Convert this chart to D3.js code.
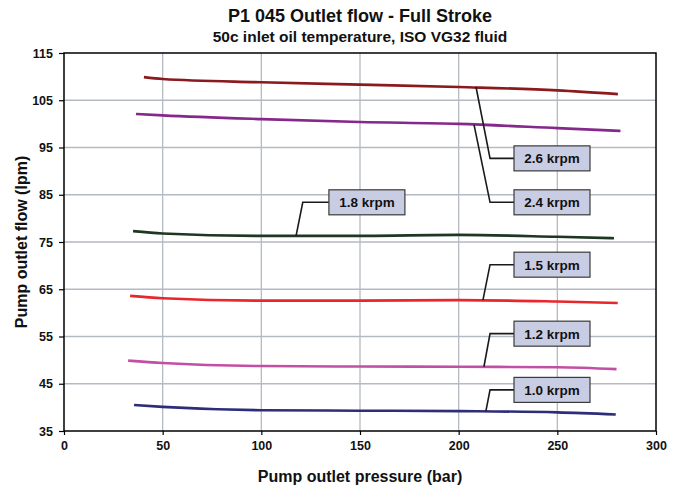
<!DOCTYPE html>
<html>
<head>
<meta charset="utf-8">
<script src="https://cdn.jsdelivr.net/npm/d3@7"></script>
<style>
  body { margin: 0; background: #fff; }
  svg { display: block; }
  text { font-family: "Liberation Sans", Arial, sans-serif; font-weight: bold; fill: #111; }
</style>
</head>
<body>
<div id="chart"></div>
<script>
// pressure (bar) / flow (lpm)
const pressure = [35, 50, 100, 150, 200, 250, 280];

const flow26 = [109.9, 109.5, 108.8, 108.3, 107.8, 107.1, 106.3];
const flow24 = [102.1, 101.8, 101.0, 100.4, 100.0, 99.1, 98.5];
const flow18 = [77.3, 76.8, 76.3, 76.3, 76.5, 76.1, 75.8];
const flow15 = [63.6, 63.1, 62.6, 62.6, 62.7, 62.4, 62.1];
const flow12 = [49.9, 49.4, 48.75, 48.65, 48.6, 48.5, 48.1];
const flow10 = [40.5, 40.1, 39.4, 39.3, 39.2, 38.95, 38.5];

const seriesNames = ["2.6 krpm", "2.4 krpm", "1.8 krpm", "1.5 krpm", "1.2 krpm", "1.0 krpm"];
const seriesStart = [40.5, 36.5, 35, 33.5, 32.5, 35.5];
const seriesEnd = [280.7, 282, 278.7, 280.6, 280, 279.6];
const seriesColors = ["#8b1a1f", "#85288c", "#1e3622", "#e8262b", "#c24fa4", "#2d2d78"];

const xTicks = [0, 50, 100, 150, 200, 250, 300];
const yTicks = [35, 45, 55, 65, 75, 85, 95, 105, 115];

// callouts: point on the curve, elbow, box centre (data units)
const callouts = [
  { name: "2.6 krpm", at: [208.8, 107.8], elbow: [215.9, 92.7], box: [247.3, 92.7] },
  { name: "2.4 krpm", at: [207.8, 99.8], elbow: [215.9, 83.4], box: [247.3, 83.4] },
  { name: "1.8 krpm", at: [117.6, 76.3], elbow: [121, 83.4], box: [153.5, 83.4] },
  { name: "1.5 krpm", at: [212.3, 62.7], elbow: [215.9, 70.2], box: [247.3, 70.2] },
  { name: "1.2 krpm", at: [212.8, 48.6], elbow: [215.9, 55.6], box: [247.3, 55.6] },
  { name: "1.0 krpm", at: [213.8, 39.2], elbow: [215.9, 43.7], box: [247.3, 43.7] }
];

const W = 679, H = 489;
const margin = { top: 53, right: 23, bottom: 58, left: 64 };

const svg = d3.select("#chart").append("svg")
  .attr("width", W)
  .attr("height", H);

const x = d3.scaleLinear().domain([0, 300]).range([margin.left, W - margin.right]);
const y = d3.scaleLinear().domain([35, 115]).range([H - margin.bottom, margin.top]);

// title
svg.append("text")
  .attr("x", 360).attr("y", 22)
  .attr("text-anchor", "middle")
  .style("font-size", "18px")
  .text("P1 045 Outlet flow - Full Stroke");
svg.append("text")
  .attr("x", 360).attr("y", 42)
  .attr("text-anchor", "middle")
  .style("font-size", "15.5px")
  .text("50c inlet oil temperature, ISO VG32 fluid");

// grid
svg.append("g")
  .selectAll("line")
  .data(xTicks.slice(1, -1))
  .join("line")
  .attr("x1", d => x(d)).attr("x2", d => x(d))
  .attr("y1", y(35)).attr("y2", y(115))
  .attr("stroke", "#b4bac2").attr("stroke-width", 1.3);
svg.append("g")
  .selectAll("line")
  .data(yTicks.slice(1, -1))
  .join("line")
  .attr("x1", x(0)).attr("x2", x(300))
  .attr("y1", d => y(d)).attr("y2", d => y(d))
  .attr("stroke", "#b4bac2").attr("stroke-width", 1.3);

// frame
svg.append("rect")
  .attr("x", x(0)).attr("y", y(115))
  .attr("width", x(300) - x(0)).attr("height", y(35) - y(115))
  .attr("fill", "none").attr("stroke", "#000").attr("stroke-width", 1.5);

// axes
const xAxis = svg.append("g")
  .attr("transform", `translate(0,${y(35)})`)
  .call(d3.axisBottom(x).tickValues(xTicks).tickSize(4).tickPadding(6));
const yAxis = svg.append("g")
  .attr("transform", `translate(${x(0)},0)`)
  .call(d3.axisLeft(y).tickValues(yTicks).tickSize(5).tickPadding(6));
[xAxis, yAxis].forEach(g => {
  g.select(".domain").remove();
  g.selectAll(".tick line").attr("stroke", "#000").attr("stroke-width", 1.2);
  g.selectAll(".tick text").style("font-size", "12.5px").attr("fill", "#111")
    .style("font-family", "'Liberation Sans', Arial, sans-serif");
});

svg.append("text")
  .attr("x", 360).attr("y", 482)
  .attr("text-anchor", "middle")
  .style("font-size", "16px")
  .text("Pump outlet pressure (bar)");
svg.append("text")
  .attr("transform", `translate(27,${(y(35) + y(115)) / 2}) rotate(-90)`)
  .attr("text-anchor", "middle")
  .style("font-size", "16px")
  .text("Pump outlet flow (lpm)");

// curves
const allFlows = [flow26, flow24, flow18, flow15, flow12, flow10];
const line = d3.line()
  .x(d => x(d[0]))
  .y(d => y(d[1]))
  .curve(d3.curveMonotoneX);

allFlows.forEach((vals, i) => {
  const pts = pressure.map((p, j) => [p, vals[j]]);
  pts[0][0] = seriesStart[i];
  pts[pts.length - 1][0] = seriesEnd[i];
  svg.append("path")
    .datum(pts)
    .attr("fill", "none")
    .attr("stroke", seriesColors[i])
    .attr("stroke-width", 2.6)
    .attr("stroke-linecap", "butt")
    .attr("d", line);
});

// callouts
const boxW = 76, boxH = 25;
const cg = svg.append("g");
callouts.forEach(c => {
  const bx = x(c.box[0]), by = y(c.box[1]);
  cg.append("path")
    .attr("d", d3.line()([
      [x(c.at[0]), y(c.at[1])],
      [x(c.elbow[0]), y(c.elbow[1])],
      [bx - boxW / 2, by]
    ]))
    .attr("fill", "none")
    .attr("stroke", "#1a1a1a")
    .attr("stroke-width", 1.6);
  cg.append("rect")
    .attr("x", bx - boxW / 2).attr("y", by - boxH / 2)
    .attr("width", boxW).attr("height", boxH)
    .attr("fill", "#c9cde4")
    .attr("stroke", "#3a3a3a")
    .attr("stroke-width", 1.2);
  cg.append("text")
    .attr("x", bx).attr("y", by + 5)
    .attr("text-anchor", "middle")
    .style("font-size", "13.5px")
    .attr("fill", "#222")
    .text(c.name);
});
</script>
</body>
</html>
